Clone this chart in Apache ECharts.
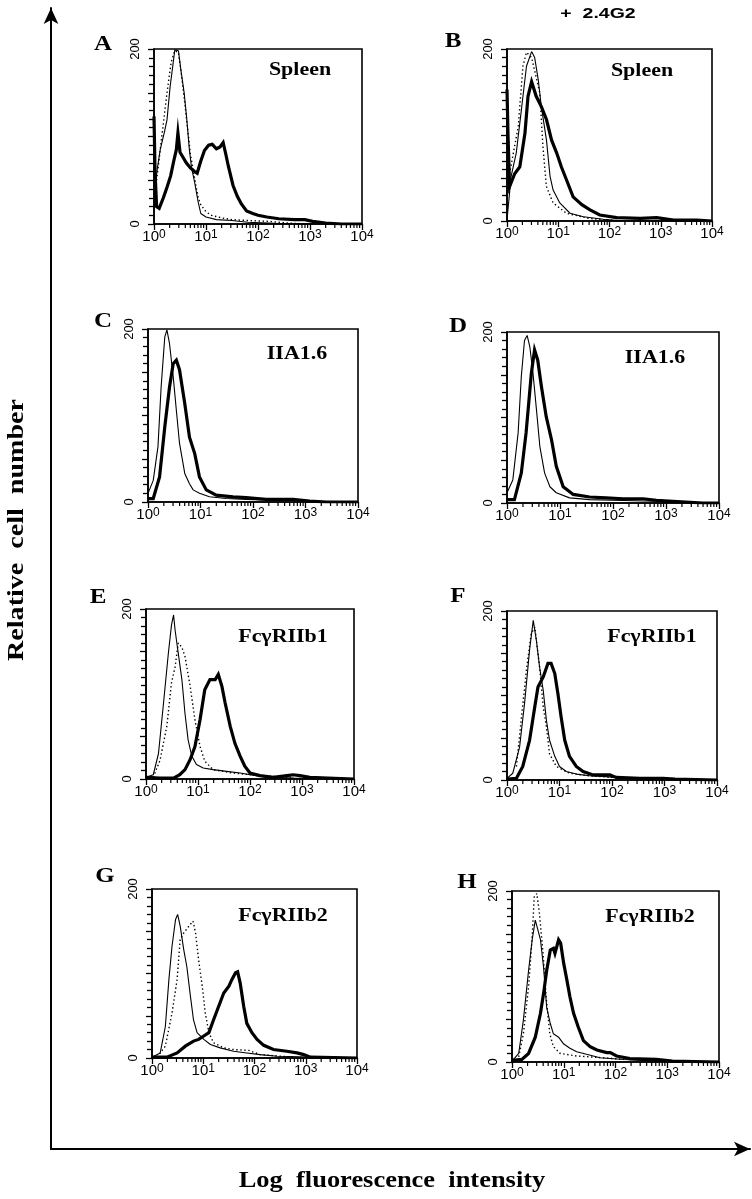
<!DOCTYPE html>
<html>
<head>
<meta charset="utf-8">
<script src="https://cdn.jsdelivr.net/npm/echarts@6/dist/echarts.min.js"></script>
<style>html,body{margin:0;padding:0;background:#fff}#c{width:752px;height:1199px}</style>
</head>
<body>
<div id="c"></div>
<script>
// x values are positions in decades (10^0 .. 10^4), y values are cell counts
const xTickLabels = ['0', '1', '2', '3', '4'];
const xMinorTickValues = [2,3,4,5,6,7,8,9,20,30,40,50,60,70,80,90,200,300,400,500,600,700,800,900,2000,3000,4000,5000,6000,7000,8000,9000];
const yTickLabels = ['0', '200'];
const panelLetters = ['A','B','C','D','E','F','G','H'];
const panelLabels = ['Spleen','Spleen','IIA1.6','IIA1.6','FcγRIIb1','FcγRIIb1','FcγRIIb2','FcγRIIb2'];
const columnTitle = '+  2.4G2';
const xTitle = 'Log  fluorescence  intensity';
const yTitle = 'Relative  cell  number';

const aThin = [[0,20],[0.03,45],[0.06,62],[0.12,85],[0.2,105],[0.25,119],[0.31,157],[0.36,180],[0.4,199],[0.47,198],[0.52,175],[0.58,150],[0.63,120],[0.68,85],[0.72,65],[0.78,48],[0.85,25],[0.9,12],[1.0,8],[1.2,5],[1.5,4],[1.8,2],[2.2,1],[2.6,0],[4,0]];
const aDotted = [[0.05,50],[0.15,100],[0.25,150],[0.33,185],[0.4,198],[0.47,196],[0.55,160],[0.63,118],[0.7,80],[0.78,52],[0.85,30],[0.9,22],[1.0,14],[1.1,10],[1.3,7],[1.5,5],[1.8,4],[2.2,3],[2.6,1],[3,0]];
const aThick = [[0,123],[0.02,60],[0.05,20],[0.1,18],[0.18,30],[0.25,42],[0.32,55],[0.38,72],[0.43,85],[0.46,104],[0.5,82],[0.56,76],[0.62,70],[0.7,64],[0.78,60],[0.83,58],[0.9,72],[0.97,84],[1.05,90],[1.12,91],[1.2,86],[1.27,88],[1.33,93],[1.38,80],[1.43,66],[1.52,44],[1.6,32],[1.68,23],[1.78,15],[1.9,12],[2.0,10],[2.17,8],[2.4,6],[2.7,5],[2.9,5],[3.05,3],[3.3,1],[3.6,0],[4,0]];

const bThin = [[0,1],[0.08,52],[0.18,79],[0.28,129],[0.38,180],[0.48,197],[0.54,190],[0.61,164],[0.67,133],[0.77,94],[0.84,52],[0.9,36],[1.03,21],[1.23,9],[1.49,5],[1.88,2],[2.3,0],[4,0]];
const bDotted = [[0.05,55],[0.22,110],[0.31,180],[0.38,196],[0.48,190],[0.64,149],[0.7,87],[0.77,40],[0.9,21],[1.16,9],[1.6,3],[2.2,0]];
const bThick = [[0,153],[0.02,100],[0.05,40],[0.15,55],[0.25,63],[0.35,102],[0.41,145],[0.48,162],[0.57,145],[0.67,133],[0.77,118],[0.87,94],[0.97,79],[1.06,63],[1.16,48],[1.29,28],[1.46,19],[1.62,13],[1.81,7],[2.14,4],[2.6,3],[2.92,4],[3.25,1],[3.7,1],[4,0]];

const cThin = [[0,10],[0.1,25],[0.19,64],[0.25,133],[0.32,191],[0.36,199],[0.41,183],[0.48,145],[0.54,106],[0.6,68],[0.7,33],[0.79,21],[0.86,14],[0.98,10],[1.17,6],[1.49,4],[1.87,3],[2.44,2],[2.89,2],[3.4,0],[4,0]];
const cThick = [[0,4],[0.1,4],[0.22,29],[0.32,87],[0.41,133],[0.48,160],[0.54,164],[0.6,153],[0.7,114],[0.79,75],[0.89,56],[0.98,29],[1.11,14],[1.3,8],[1.62,6],[1.87,5],[2.25,3],[2.76,3],[3.08,1],[3.4,0],[4,0]];

const dThin = [[0,12],[0.11,27],[0.21,82],[0.27,148],[0.33,190],[0.38,196],[0.43,183],[0.49,152],[0.55,113],[0.62,66],[0.71,35],[0.81,19],[0.93,12],[1.18,6],[1.56,4],[2.19,3],[2.82,2],[3.45,0],[4,0]];
const dThick = [[0,4],[0.14,4],[0.27,35],[0.36,82],[0.46,152],[0.52,179],[0.58,167],[0.65,136],[0.74,101],[0.84,74],[0.93,43],[1.06,19],[1.25,10],[1.56,7],[1.87,6],[2.19,5],[2.57,5],[2.82,3],[3.13,2],[3.7,0],[4,0]];

const eThin = [[0,2],[0.14,5],[0.24,30],[0.33,85],[0.43,148],[0.49,181],[0.53,193],[0.56,175],[0.62,148],[0.69,117],[0.75,77],[0.81,46],[0.88,27],[0.97,17],[1.1,13],[1.29,11],[1.55,9],[1.81,7],[2.0,5],[2.32,2],[2.84,1],[4,0]];
const eDotted = [[0.14,2],[0.27,22],[0.4,62],[0.49,113],[0.56,132],[0.62,160],[0.69,155],[0.75,144],[0.85,109],[0.94,70],[1.04,38],[1.13,21],[1.29,11],[1.68,7],[2.19,4],[2.84,2]];
const eThick = [[0,2],[0.27,1],[0.53,1],[0.65,5],[0.75,11],[0.85,23],[0.94,38],[1.04,70],[1.13,105],[1.23,117],[1.33,117],[1.39,123],[1.46,109],[1.52,90],[1.62,62],[1.71,42],[1.81,27],[1.9,15],[2.0,7],[2.19,4],[2.45,2],[2.71,4],[2.83,5],[2.96,4],[3.15,2],[3.5,1],[4,0]];

const fThin = [[0,2],[0.11,8],[0.24,39],[0.34,94],[0.43,154],[0.5,189],[0.53,191],[0.56,165],[0.62,134],[0.69,106],[0.75,71],[0.81,47],[0.91,28],[1.0,16],[1.13,10],[1.32,7],[1.57,5],[1.89,4],[2.21,2],[2.84,1],[4,0]];
const fDotted = [[0.18,16],[0.27,71],[0.37,130],[0.46,173],[0.53,181],[0.62,134],[0.69,87],[0.75,63],[0.81,31],[0.94,16],[1.19,8],[1.57,5],[2.0,3]];
const fThick = [[0,1],[0.18,2],[0.3,16],[0.43,47],[0.53,87],[0.59,110],[0.69,122],[0.78,138],[0.84,138],[0.91,126],[0.97,102],[1.03,75],[1.1,47],[1.19,28],[1.32,16],[1.45,10],[1.64,6],[1.83,6],[1.96,6],[2.08,3],[2.53,2],[2.97,2],[3.2,1],[4,0]];

const gThin = [[0,1],[0.16,6],[0.26,37],[0.33,93],[0.39,132],[0.46,164],[0.5,170],[0.55,156],[0.62,128],[0.68,108],[0.75,73],[0.81,45],[0.88,30],[1.01,22],[1.14,16],[1.33,12],[1.59,8],[1.85,6],[2.11,4],[2.44,2],[4,0]];
const gDotted = [[0.1,1],[0.26,14],[0.39,53],[0.49,93],[0.55,140],[0.62,148],[0.72,156],[0.8,162],[0.85,148],[0.91,116],[0.98,85],[1.04,53],[1.11,30],[1.2,18],[1.4,12],[1.59,10],[1.89,9],[2.11,4],[2.76,1]];
const gThick = [[0,1],[0.29,1],[0.49,6],[0.65,14],[0.81,20],[0.91,22],[1.01,26],[1.11,30],[1.2,45],[1.3,61],[1.4,77],[1.5,85],[1.56,93],[1.63,101],[1.67,102],[1.72,89],[1.79,61],[1.85,41],[1.95,30],[2.05,22],[2.18,15],[2.37,10],[2.63,8],[2.83,6],[2.96,4],[3.09,1],[4,0]];

const hThin = [[0,1],[0.13,10],[0.22,49],[0.32,107],[0.39,143],[0.45,166],[0.48,168],[0.55,143],[0.61,111],[0.67,64],[0.74,45],[0.8,33],[0.9,29],[1.0,21],[1.12,16],[1.25,12],[1.44,9],[1.7,5],[2.16,3],[2.8,1],[4,0]];
const hDotted = [[0.13,6],[0.22,33],[0.32,88],[0.39,146],[0.43,193],[0.48,197],[0.53,174],[0.6,127],[0.66,76],[0.73,33],[0.8,18],[0.93,10],[1.25,7],[1.51,6],[2.16,3]];
const hThick = [[0,2],[0.19,3],[0.32,10],[0.45,29],[0.55,57],[0.61,80],[0.67,107],[0.74,131],[0.8,133],[0.83,127],[0.9,143],[0.94,139],[1.0,115],[1.06,96],[1.12,76],[1.19,57],[1.28,41],[1.38,25],[1.51,18],[1.64,14],[1.83,11],[1.9,11],[2.02,7],[2.28,4],[2.79,3],[3.1,1],[4,0]];

const thinSets = [aThin, bThin, cThin, dThin, eThin, fThin, gThin, hThin];
const dottedSets = [aDotted, bDotted, null, null, eDotted, fDotted, gDotted, hDotted];
const thickSets = [aThick, bThick, cThick, dThick, eThick, fThick, gThick, hThick];

// layout (pixels)
const boxes = [
  [154, 49, 208, 175], [507, 49, 205, 172],
  [148, 329, 210, 173], [507, 332, 212, 171],
  [146, 609, 208, 170], [507, 611, 210, 169],
  [152, 889, 205, 169], [512, 891, 207, 171]
];
const letterPos = [[103,45],[453,42],[103,322],[458,327],[98,598],[458,597],[105,877],[467,883]];
const labelPos = [[300,70],[642,71],[297,354],[655,358],[283,637],[652,637],[283,916],[650,917]];

const sansFont = '"Liberation Sans", Arial, sans-serif';
const serifFont = '"Liberation Serif", "Times New Roman", serif';

function txt(text, x, y, font, scaleX, rotation) {
  return {type: 'text', x: x, y: y, scaleX: scaleX || 1, rotation: rotation || 0, silent: true,
    style: {text: text, font: font, fill: '#000', align: 'center', verticalAlign: 'middle',
      textAlign: 'center', textVerticalAlign: 'middle'}};
}

const grids = [], xAxes = [], yAxes = [], series = [], graphics = [];
boxes.forEach((b, i) => {
  grids.push({left: b[0], top: b[1], width: b[2], height: b[3], show: true, borderColor: '#000', borderWidth: 1.6, backgroundColor: 'transparent', containLabel: false});
  xAxes.push({
    gridIndex: i, type: 'value', min: 0, max: 4, interval: 1,
    axisLine: {show: true, onZero: false, lineStyle: {color: '#000', width: 1.6}},
    axisTick: {show: true, inside: false, length: 6, lineStyle: {color: '#000', width: 1.3}},
    splitLine: {show: false},
    axisLabel: {
      margin: 5, color: '#000',
      formatter: v => '{b|10}{s|' + xTickLabels[Math.round(v)] + '}',
      rich: {
        b: {fontSize: 15, fontFamily: sansFont, color: '#000', lineHeight: 15, verticalAlign: 'bottom'},
        s: {fontSize: 12, fontFamily: sansFont, color: '#000', lineHeight: 12, verticalAlign: 'top', padding: [0, 0, 6, 0]}
      }
    }
  });
  yAxes.push({
    gridIndex: i, type: 'value', min: 0, max: 200, interval: 50,
    axisLine: {show: true, onZero: false, lineStyle: {color: '#000', width: 1.6}},
    axisTick: {show: true, length: 6, lineStyle: {color: '#000', width: 1.3}},
    minorTick: {show: true, splitNumber: 5, length: 5, lineStyle: {color: '#000', width: 1.3}},
    splitLine: {show: false}, minorSplitLine: {show: false},
    axisLabel: {
      rotate: 90, margin: 12, fontSize: 13, fontFamily: sansFont, color: '#000',
      formatter: v => (v === 0 ? yTickLabels[0] : (v === 200 ? yTickLabels[1] : ''))
    }
  });
  series.push({
    type: 'custom', xAxisIndex: i, yAxisIndex: i, silent: true, clip: false,
    data: xMinorTickValues.map(v => [Math.log10(v)]),
    renderItem: (params, api) => {
      const p = api.coord([api.value(0), 0]);
      return {type: 'line', shape: {x1: p[0], y1: p[1], x2: p[0], y2: p[1] + 4}, style: {stroke: '#000', lineWidth: 1.2}};
    }
  });
  if (dottedSets[i]) {
    series.push({type: 'line', xAxisIndex: i, yAxisIndex: i, data: dottedSets[i], showSymbol: false, silent: true,
      lineStyle: {color: '#000', width: 1.4, type: [1.4, 2.6]}, z: 3});
  }
  series.push({type: 'line', xAxisIndex: i, yAxisIndex: i, data: thinSets[i], showSymbol: false, silent: true,
    lineStyle: {color: '#000', width: 1.1}, z: 4});
  series.push({type: 'line', xAxisIndex: i, yAxisIndex: i, data: thickSets[i], showSymbol: false, silent: true,
    lineStyle: {color: '#000', width: 3.2, join: 'miter'}, z: 5});

  graphics.push(txt(panelLetters[i], letterPos[i][0], letterPos[i][1], 'bold 20px ' + serifFont, 1.25));
  graphics.push(txt(panelLabels[i], labelPos[i][0], labelPos[i][1], 'bold 18px ' + serifFont, 1.22));
});

graphics.push(txt(columnTitle, 598, 14, 'bold 15px ' + sansFont, 1.3));
graphics.push(txt(xTitle, 392, 1181, 'bold 23px ' + serifFont, 1.15));
graphics.push(txt(yTitle, 17, 530, 'bold 23px ' + serifFont, 1.22, Math.PI / 2));

// outer figure axes with arrows
grids.push({left: 51, top: 8, right: 2, bottom: 50, show: false});
xAxes.push({gridIndex: 8, type: 'value', min: 0, max: 1,
  axisLine: {show: true, onZero: false, symbol: ['none', 'arrow'], symbolSize: [11, 16], lineStyle: {color: '#000', width: 2}},
  axisTick: {show: false}, axisLabel: {show: false}, splitLine: {show: false}});
yAxes.push({gridIndex: 8, type: 'value', min: 0, max: 1,
  axisLine: {show: true, onZero: false, symbol: ['none', 'arrow'], symbolSize: [11, 16], lineStyle: {color: '#000', width: 2}},
  axisTick: {show: false}, axisLabel: {show: false}, splitLine: {show: false}});

const chart = echarts.init(document.getElementById('c'), null, {renderer: 'canvas'});
chart.setOption({
  animation: false,
  backgroundColor: '#fff',
  grid: grids, xAxis: xAxes, yAxis: yAxes, series: series, graphic: graphics
});
</script>
</body>
</html>
